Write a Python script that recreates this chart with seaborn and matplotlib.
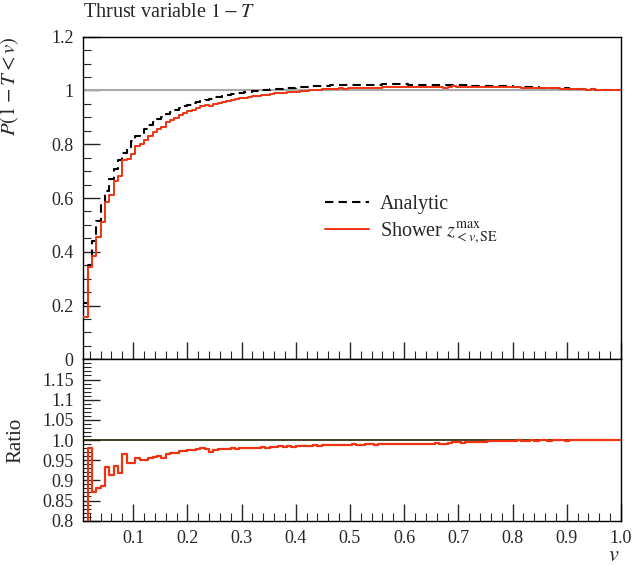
import numpy as np
import pandas as pd
import matplotlib
matplotlib.use("Agg")
import matplotlib.pyplot as plt
import matplotlib.ticker as mticker
import seaborn as sns

# bins of width 0.008 from 0.008 to 1.0
bin_edges = np.round(np.arange(1, 126) * 0.008, 3)

analytic = [
    0.210, 0.350, 0.440, 0.516, 0.578, 0.628, 0.670, 0.708, 0.742, 0.769,
    0.791, 0.811, 0.829, 0.843, 0.857, 0.870, 0.882, 0.893, 0.903, 0.912,
    0.920, 0.928, 0.935, 0.941, 0.947, 0.952, 0.957, 0.962, 0.966, 0.970,
    0.974, 0.977, 0.980, 0.983, 0.986, 0.989, 0.991, 0.993, 0.995, 0.997,
    0.999, 1.001, 1.003, 1.004, 1.006, 1.007, 1.008, 1.010, 1.011, 1.012,
    1.013, 1.014, 1.015, 1.016, 1.017, 1.017, 1.018, 1.019, 1.019, 1.020,
    1.020, 1.021, 1.021, 1.021, 1.022, 1.022, 1.022, 1.022, 1.022, 1.023,
    1.023, 1.023, 1.023, 1.023, 1.023, 1.022, 1.022, 1.022, 1.022, 1.022,
    1.021, 1.021, 1.021, 1.020, 1.020, 1.020, 1.019, 1.019, 1.019, 1.018,
    1.018, 1.018, 1.017, 1.017, 1.017, 1.016, 1.016, 1.015, 1.015, 1.014,
    1.014, 1.013, 1.013, 1.012, 1.012, 1.011, 1.011, 1.010, 1.010, 1.009,
    1.008, 1.008, 1.007, 1.006, 1.006, 1.005, 1.004, 1.004, 1.003, 1.002,
    1.002, 1.001, 1.000, 1.000,
]

# shower / analytic
ratio = [
    0.750, 0.980, 0.870, 0.880, 0.887, 0.933, 0.913, 0.935, 0.918, 0.965,
    0.942, 0.942, 0.955, 0.950, 0.950, 0.955, 0.957, 0.960, 0.955, 0.966,
    0.967, 0.968, 0.972, 0.974, 0.975, 0.975, 0.978, 0.979, 0.978, 0.971,
    0.975, 0.977, 0.977, 0.978, 0.979, 0.978, 0.980, 0.979, 0.980, 0.981,
    0.981, 0.982, 0.981, 0.983, 0.983, 0.984, 0.983, 0.984, 0.983, 0.984,
    0.986, 0.985, 0.986, 0.987, 0.986, 0.987, 0.988, 0.987, 0.987, 0.988,
    0.987, 0.988, 0.989, 0.988, 0.988, 0.989, 0.989, 0.988, 0.989, 0.990,
    0.989, 0.990, 0.990, 0.990, 0.991, 0.990, 0.991, 0.991, 0.990, 0.991,
    0.991, 0.992, 0.991, 0.991, 0.992, 0.996, 0.994, 0.993, 0.994, 0.994,
    0.995, 0.995, 0.996, 0.997, 0.997, 0.998, 0.997, 0.998, 0.998, 0.998,
    0.999, 0.998, 0.998, 0.999, 0.998, 0.999, 0.999, 0.998, 0.999, 0.999,
    0.999, 0.998, 0.999, 0.999, 1.000, 0.999, 0.999, 1.000, 0.999, 1.000,
    1.000, 0.999, 1.000, 1.000,
]

shower = [a * r for a, r in zip(analytic, ratio)]

def steps(vals):
    return pd.DataFrame({"v": bin_edges, "y": list(vals) + [vals[-1]]})

sns.set_theme(style="ticks")
plt.rcParams["font.family"] = ["Liberation Serif", "DejaVu Serif"]
plt.rcParams["mathtext.fontset"] = "stix"

red = "#ee3311"
fig = plt.figure(figsize=(6.34, 5.65), dpi=100)
ax1 = fig.add_axes([0.1314, 0.364, 0.848, 0.571])
ax2 = fig.add_axes([0.1314, 0.0784, 0.848, 0.2856])

# upper panel
ax1.axhline(1.0, color="#aaaaaa", lw=1.5, zorder=1)
sns.lineplot(data=steps(analytic), x="v", y="y", ax=ax1, color="black", lw=1.5,
             linestyle=(0, (4, 2.5)), drawstyle="steps-post", estimator=None,
             sort=False, label="Analytic", zorder=3)
sns.lineplot(data=steps(shower), x="v", y="y", ax=ax1, color=red, lw=1.4,
             drawstyle="steps-post", estimator=None, sort=False,
             label=r"Shower $z^{\mathrm{max}}_{<v,\mathrm{SE}}$", zorder=4)
ax1.set_xlim(0.008, 1.0)
ax1.set_ylim(0, 1.2)
ax1.set_yticks([0, 0.2, 0.4, 0.6, 0.8, 1.0, 1.2])
ax1.set_yticklabels(["0", "0.2", "0.4", "0.6", "0.8", "1", "1.2"])
ax1.yaxis.set_minor_locator(mticker.MultipleLocator(0.05))
ax1.xaxis.set_major_locator(mticker.MultipleLocator(0.1))
ax1.xaxis.set_minor_locator(mticker.MultipleLocator(0.02))
ax1.tick_params(axis="x", labelbottom=False)
ax1.set_xlabel("")
ax1.set_ylabel(r"$P(1-T<v)$", fontsize=15, loc="top")
ax1.yaxis.set_label_coords(-0.115, 1.0)
ax1.legend(loc="upper left", bbox_to_anchor=(0.449, 0.51), frameon=False,
           fontsize=14.5, handlelength=2.2, handletextpad=0.55,
           borderaxespad=0, borderpad=0, labelspacing=0.3)
ax1.text(0.0, 1.045, r"Thrust variable $1-T$", transform=ax1.transAxes,
         fontsize=14.5, ha="left", va="bottom")

# ratio panel
ones = [1.0] * len(analytic)
sns.lineplot(data=steps(ones), x="v", y="y", ax=ax2, color="#222200", lw=1.2,
             drawstyle="steps-post", estimator=None, sort=False, zorder=3)
sns.lineplot(data=steps(ratio), x="v", y="y", ax=ax2, color=red, lw=1.6,
             drawstyle="steps-post", estimator=None, sort=False, zorder=4)
ax2.set_xlim(0.008, 1.0)
ax2.set_ylim(0.8, 1.2)
ax2.set_yticks([0.8, 0.85, 0.9, 0.95, 1.0, 1.05, 1.1, 1.15])
ax2.set_yticklabels(["0.8", "0.85", "0.9", "0.95", "1.0", "1.05", "1.1", "1.15"])
ax2.yaxis.set_minor_locator(mticker.MultipleLocator(0.01))
ax2.set_xticks([0.1, 0.2, 0.3, 0.4, 0.5, 0.6, 0.7, 0.8, 0.9, 1.0])
ax2.set_xticklabels(["0.1", "0.2", "0.3", "0.4", "0.5", "0.6", "0.7", "0.8", "0.9", "1.0"])
ax2.xaxis.set_minor_locator(mticker.MultipleLocator(0.02))
ax2.set_ylabel("Ratio", fontsize=15)
ax2.yaxis.set_label_coords(-0.108, 0.5)
ax2.set_xlabel(r"$v$", fontsize=16, loc="right")
ax2.xaxis.set_label_coords(0.997, -0.165)

for ax in (ax1, ax2):
    ax.tick_params(which="major", direction="in", length=12, width=1,
                   labelsize=13, pad=7, top=False, right=False)
    ax.tick_params(which="minor", direction="in", length=6, width=0.8,
                   top=False, right=False)
    for s in ax.spines.values():
        s.set_color("black")
        s.set_linewidth(1.0)

fig.savefig("out.png", dpi=100)
